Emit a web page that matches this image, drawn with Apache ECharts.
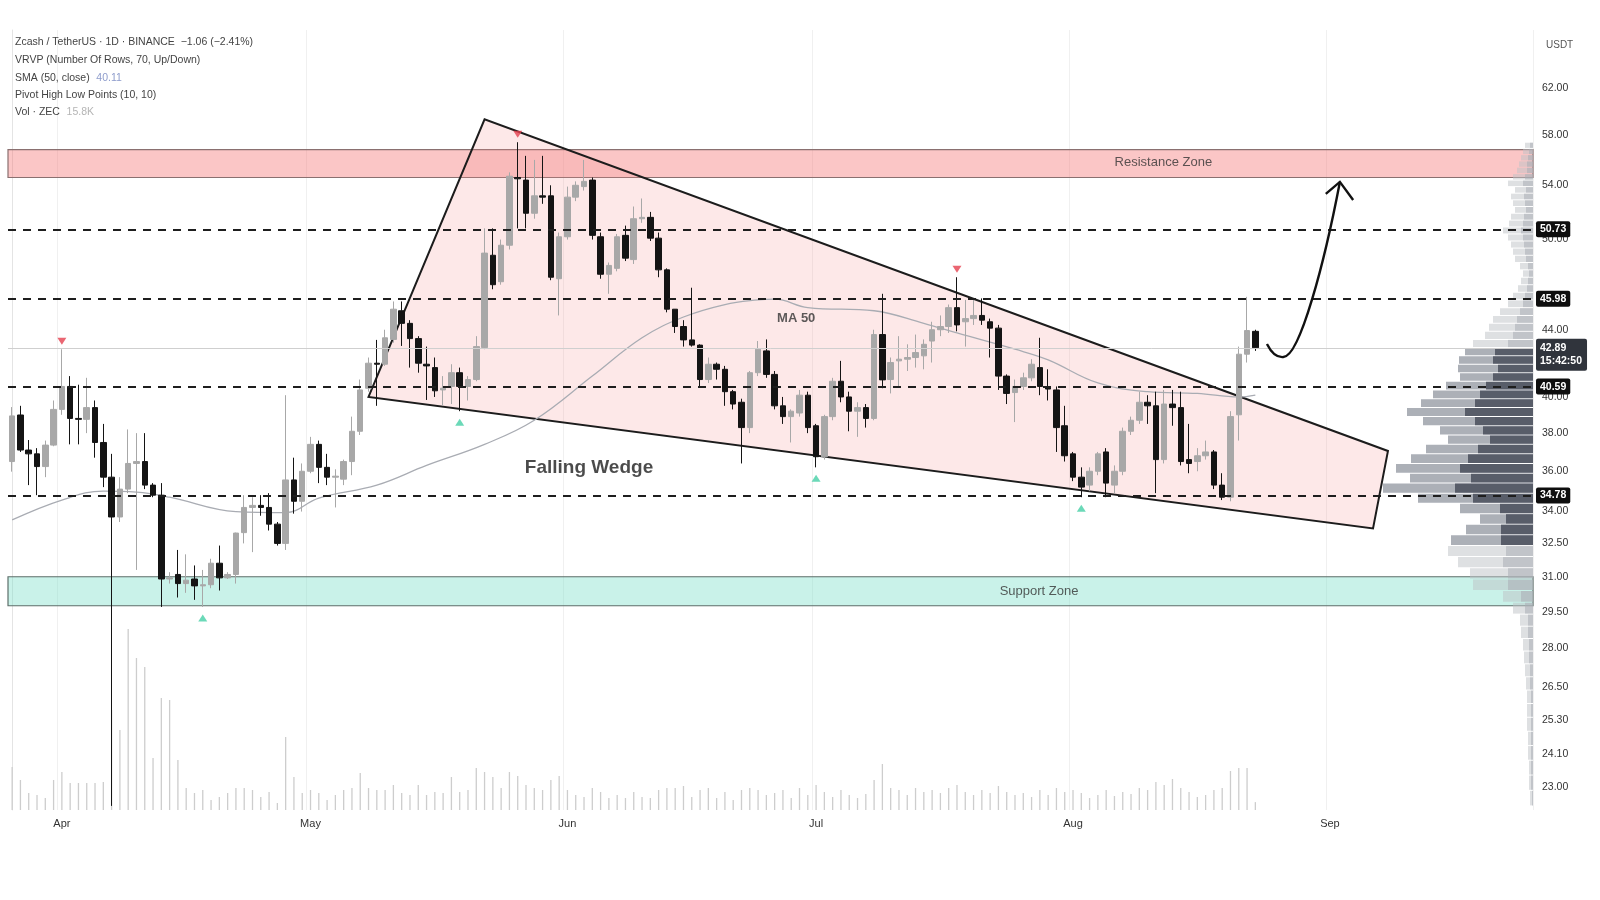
<!DOCTYPE html>
<html><head><meta charset="utf-8">
<script src="https://cdn.jsdelivr.net/npm/echarts@6/dist/echarts.min.js"></script>
<style>html,body{margin:0;padding:0;background:#fff}#c{width:1600px;height:900px}</style>
</head><body><div id="c"></div>
<script>
// ---------------- DATA ----------------
const startDate = [2025, 2, 26];   // 2025-03-26 (first candle)
const dayCount = 184;              // categories up to 2025-09-25
const monthNames = ['Jan','Feb','Mar','Apr','May','Jun','Jul','Aug','Sep','Oct','Nov','Dec'];

// daily candles: [open, close, low, high]
const ohlc = [
[36.5,38.94,35.98,39.43],[38.99,37.1,37.0,39.5],[37.1,36.9,35.3,37.63],[36.9,36.24,34.8,37.2],[36.24,37.36,35.7,37.6],
[37.36,39.3,37.3,39.8],[39.3,40.6,39.0,42.8],[40.6,38.8,37.4,41.2],[38.8,38.75,37.4,40.7],[38.75,39.4,38.0,41.1],
[39.4,37.5,36.7,39.8],[37.5,35.7,35.2,38.5],[35.7,33.74,22.4,36.9],[33.74,35.1,33.5,35.7],[35.1,36.4,34.9,38.2],
[36.4,36.5,31.3,38.0],[36.5,35.3,35.1,38.0],[35.3,34.8,34.7,35.4],[34.8,30.9,29.7,35.4],[30.9,30.95,30.7,31.2],
[31.1,30.7,30.1,32.2],[30.7,30.85,30.3,32.0],[30.9,30.6,30.0,31.5],[30.6,30.65,29.7,31.3],[30.65,31.6,30.5,31.8],
[31.6,30.95,30.4,32.4],[30.95,31.1,30.9,31.2],[31.1,32.98,30.7,33.0],[33.0,34.2,32.5,34.8],[34.2,34.3,32.1,34.7],
[34.3,34.2,33.8,34.8],[34.2,33.4,33.1,34.9],[33.4,32.5,32.4,33.5],[32.5,35.56,32.2,40.1],[35.56,34.5,33.9,36.7],
[34.5,36.0,34.0,36.4],[36.0,37.4,35.9,37.8],[37.4,36.2,35.4,37.6],[36.2,35.7,35.3,36.9],[35.7,35.75,34.2,36.1],
[35.6,36.5,35.3,36.6],[36.5,38.1,35.8,38.9],[38.1,40.4,37.9,41.0],[40.5,41.96,40.3,42.3],[41.96,41.9,39.5,43.37],
[41.9,43.5,41.8,44.0],[43.4,45.3,43.2,45.8],[45.2,44.4,43.0,45.8],[44.4,43.45,41.7,44.6],[43.45,41.96,41.4,43.6],
[41.9,41.8,39.83,42.96],[41.7,40.35,40.0,42.3],[40.4,40.5,39.5,41.2],[40.6,41.4,39.6,41.9],[41.4,40.6,39.2,41.7],
[40.6,41.0,39.8,41.2],[41.0,42.96,40.9,43.6],[42.9,49.05,42.8,50.8],[48.9,46.9,46.6,50.8],[47.1,49.6,46.9,50.0],
[49.6,54.7,49.3,55.0],[54.6,54.5,50.8,57.4],[54.4,51.9,50.8,56.3],[51.9,53.2,51.5,55.98],[53.2,53.1,52.6,56.3],
[53.2,47.4,47.2,54.0],[47.3,50.2,44.9,50.5],[50.2,53.1,50.0,53.9],[53.1,54.0,52.8,54.3],[53.9,54.3,53.6,55.98],
[54.4,50.3,50.0,54.6],[50.2,47.6,47.3,50.5],[47.6,48.2,46.3,48.4],[48.0,50.2,47.8,50.4],[50.3,48.7,48.5,51.0],
[48.6,51.5,48.3,52.4],[51.5,51.6,51.2,53.0],[51.6,50.1,49.9,52.0],[50.1,47.9,47.4,50.5],[47.9,45.3,45.1,48.0],
[45.3,44.2,43.8,45.3],[44.2,43.37,42.96,44.6],[43.37,43.05,42.96,46.7],[43.05,41.0,40.6,43.1],[41.0,41.9,40.8,42.3],
[41.9,41.6,41.0,42.0],[41.6,40.3,39.5,41.8],[40.3,39.6,39.3,40.4],[39.7,38.3,36.4,39.9],[38.3,41.4,38.0,41.5],
[41.4,42.8,41.2,43.3],[42.7,41.3,41.1,43.4],[41.3,39.5,39.3,41.5],[39.5,38.9,38.5,40.0],[38.9,39.2,37.5,39.3],
[39.1,40.1,38.9,40.4],[40.1,38.3,38.0,40.3],[38.4,36.75,36.2,38.5],[36.75,38.9,36.6,39.0],[38.9,40.9,38.7,41.1],
[40.9,40.0,39.7,42.1],[40.0,39.2,38.1,40.3],[39.2,39.4,37.8,39.7],[39.4,38.8,38.3,39.6],[38.8,43.7,38.7,44.0],
[43.7,40.98,40.5,46.3],[41.0,42.0,40.2,42.3],[42.1,42.2,40.6,43.6],[42.2,42.3,41.5,43.1],[42.3,42.6,41.7,43.7],
[42.4,43.1,41.6,43.4],[43.3,44.0,42.0,44.5],[44.0,44.2,43.6,44.9],[44.2,45.4,43.8,45.6],[45.4,44.3,43.9,47.4],
[44.5,44.7,42.96,45.9],[44.7,44.9,44.3,46.0],[44.9,44.6,44.3,46.0],[44.5,44.1,42.3,44.7],[44.1,41.2,40.4,44.3],
[41.2,40.2,39.6,41.3],[40.25,40.6,38.6,41.0],[40.6,41.1,40.4,41.4],[41.1,41.9,40.9,42.2],[41.7,40.6,40.1,43.5],
[40.55,40.45,39.8,41.6],[40.4,38.3,37.0,40.6],[38.4,36.8,36.5,39.5],[36.9,35.7,35.5,37.0],[35.7,35.2,34.7,36.2],
[35.3,36.0,35.0,36.2],[36.0,36.9,35.8,37.0],[37.0,35.4,34.7,37.2],[35.3,36.0,34.9,36.3],[36.0,38.1,35.8,38.3],
[38.1,38.7,37.9,38.9],[38.7,39.7,38.5,40.3],[39.7,39.5,38.5,40.1],[39.5,36.6,34.9,40.3],[36.6,39.6,36.4,40.4],
[39.6,39.4,38.4,40.4],[39.4,36.5,36.3,40.3],[36.6,36.4,35.9,38.5],[36.5,36.8,36.0,37.2],[36.8,37.0,36.6,37.6],
[37.0,35.3,35.1,37.1],[35.3,34.7,34.56,35.9],[34.7,38.9,34.5,39.2],[39.0,42.5,37.6,42.96],[42.5,43.95,42.0,46.1],
[43.9,42.89,42.7,44.0]
];

// daily volume (thousand ZEC)
const volumeK = [
86,60,34,30,24,60,76,54,54,54,54,56,200,160,362,304,286,104,224,220,
100,44,34,40,20,26,34,44,44,40,26,36,14,146,66,34,40,34,20,30,
40,44,74,44,40,40,50,34,30,50,30,36,34,66,36,40,84,76,66,44,
76,68,50,44,40,60,68,40,30,26,44,36,24,30,24,36,26,24,40,44,
44,48,26,40,44,24,36,20,40,44,40,30,34,40,24,44,30,50,36,26,
40,30,24,32,60,92,44,40,30,44,36,40,34,44,50,36,30,40,34,48,
36,30,34,26,40,30,44,36,40,34,24,30,40,28,36,32,44,40,56,50,
62,44,36,26,30,40,44,78,84,84,15.8
];

// SMA(50, close): [day index, value]
const smaPoints = [[0,33.6],[6,34.56],[11,35.0],[15,34.95],[19,34.7],[27,34.0],[33,33.95],[37,34.66],
[44,35.3],[50,36.3],[57,37.4],[63,38.7],[70,41.2],[76,43.5],[81,44.8],[86,45.6],[90,45.9],[92,45.95],
[96,45.4],[104,45.2],[110,44.4],[114,43.8],[121,42.8],[125,42.16],[131,40.8],[137,40.3],[143,40.2],[148,40.0],[150,40.11]];

const priceTicks = [23,24.1,25.3,26.5,28,29.5,31,32.5,34,36,38,40,42,44,46,50,54,58,62];
const keyLevels = [50.73, 45.98, 40.59, 34.78];
const lastPrice = 42.89;
const countdown = '15:42:50';
const resistanceZone = [54.6, 56.8];
const supportZone = [29.75, 31.0];

// falling wedge polygon vertices [day index, price]
const wedgePoints = [[43.0,40.0],[57.0,59.3],[166.0,37.05],[164.2,33.2]];
// projected move arrow: start, quad control, bottom, cubic control 1, cubic control 2, tip
const arrowCurve = [[151.4,43.12],[152.25,42.27],[153.38,42.33],[155.39,42.33],[158.4,48.58],[160.2,54.26]];
const arrowHead = [[158.5,53.35],[160.2,54.26],[161.8,52.89]];

const pivotHighs = [[6,42.8],[61,57.4],[114,47.4]];
const pivotLows = [[23,29.7],[54,39.2],[97,36.2],[129,34.7]];

// annotations [day index, price, text]
const notes = [[69.6,36.2,'Falling Wedge'],[94.6,44.7,'MA 50'],[138.9,55.75,'Resistance Zone'],[123.9,30.35,'Support Zone']];

// VRVP: 70 rows of 0.5 USDT from 22.4
const vrvpBase = 22.4, vrvpStep = 0.5;
const vrvpTotal = [3,4,4,5,5,6,6,6,7,8,9,10,12,13,20,30,60,63,75,85,
82,67,53,73,115,150,123,137,122,107,85,93,110,126,112,100,87,73,75,74,
68,60,48,44,40,33,25,20,15,12,10,13,18,20,22,25,30,24,22,18,
20,22,18,25,20,16,14,12,10,8];
const vrvpDark = [1,2,2,2,2,2,2,2,3,3,4,4,5,5,8,12,25,25,30,27,
32,32,27,33,60,78,62,73,65,55,43,50,58,68,58,53,47,40,35,40,
38,25,20,18,16,13,10,8,6,5,4,5,7,8,9,10,12,10,9,7,
8,9,7,10,8,6,6,5,4,3];
const valueArea = [20, 40];

const legendLines = [
  ['Zcash / TetherUS · 1D · BINANCE  −1.06 (−2.41%)', ''],
  ['VRVP (Number Of Rows, 70, Up/Down)', ''],
  ['SMA (50, close)', '40.11'],
  ['Pivot High Low Points (10, 10)', ''],
  ['Vol · ZEC', '15.8K']
];

// ---------------- BUILD ----------------
const cats = [];
const t0 = Date.UTC(startDate[0], startDate[1], startDate[2]);
for (let i = 0; i < dayCount; i++) cats.push(new Date(t0 + i * 86400000).toISOString().slice(0, 10));
const isMonthStart = (idx, v) => v.slice(8) === '01';

const GL = 8, GR = 67, GT = 30, GB = 90;
const gridW = 1600 - GL - GR;

const vrvpData = vrvpTotal.map((t, k) => [vrvpBase + k * vrvpStep, vrvpBase + (k + 1) * vrvpStep, t, vrvpDark[k], k]);

const chart = echarts.init(document.getElementById('c'), null, {renderer: 'canvas'});
const fontFam = "'Liberation Sans', Arial, sans-serif";

const option = {
  animation: false,
  backgroundColor: '#ffffff',
  textStyle: {fontFamily: fontFam},
  grid: {left: GL, right: GR, top: GT, bottom: GB},
  xAxis: [
    {type: 'category', data: cats, boundaryGap: true, gridIndex: 0,
     axisLine: {show: false}, axisTick: {show: false},
     axisLabel: {interval: isMonthStart, formatter: v => monthNames[+v.slice(5, 7) - 1], color: '#333', fontSize: 11, margin: 8},
     splitLine: {show: true, interval: isMonthStart, lineStyle: {color: '#f0f0f0', width: 1}}},
    {type: 'value', min: -0.5, max: dayCount - 0.5, show: false, gridIndex: 0},
    {type: 'value', min: 0, max: gridW, inverse: true, show: false, gridIndex: 0}
  ],
  yAxis: [
    {type: 'log', logBase: 10, min: 22.27, max: 67.3, position: 'right', gridIndex: 0,
     axisLine: {show: true, lineStyle: {color: '#e4e4e4'}}, axisTick: {show: false}, splitLine: {show: false},
     axisLabel: {customValues: priceTicks, formatter: v => Number(v).toFixed(2), color: '#333', fontSize: 10.5, margin: 9}},
    {type: 'value', min: 0, max: 1560, show: false, gridIndex: 0}
  ],
  graphic: [
    ...legendLines.map((l, i) => ({
      type: 'text', left: 15, top: 37 + i * 17.4, z: 100,
      style: {text: l[1] ? '{a|' + l[0] + '}  {b' + i + '|' + l[1] + '}' : '{a|' + l[0] + '}',
        rich: {a: {fill: '#444', fontSize: 10.5, fontFamily: fontFam},
               b2: {fill: '#8e9ccc', fontSize: 10.5, fontFamily: fontFam},
               b4: {fill: '#b5b5b5', fontSize: 10.5, fontFamily: fontFam}}}
    })),
    {type: 'text', left: 1546, top: 40, z: 100, style: {text: 'USDT', fill: '#555', fontSize: 10, fontFamily: fontFam}}
  ],
  series: [
    // falling wedge
    {type: 'custom', name: 'wedge', xAxisIndex: 1, yAxisIndex: 0, z: 1, silent: true,
     data: [wedgePoints[0]],
     renderItem: (params, api) => ({
       type: 'polygon', shape: {points: wedgePoints.map(p => api.coord(p))},
       style: {fill: 'rgba(245,140,140,0.2)', stroke: '#1c1c1c', lineWidth: 2}
     })},
    // VRVP
    {type: 'custom', name: 'VRVP', xAxisIndex: 2, yAxisIndex: 0, z: 2, silent: true, clip: false,
     data: vrvpData,
     renderItem: (params, api) => {
       const lo = api.value(0), hi = api.value(1), tot = api.value(2), dk = api.value(3), k = api.value(4);
       const inVA = k >= valueArea[0] && k <= valueArea[1];
       const a = api.coord([0, hi]), b = api.coord([tot, lo]), c = api.coord([dk, lo]);
       const h = Math.max(1, b[1] - a[1] - 1);
       return {type: 'group', children: [
         {type: 'rect', shape: {x: b[0], y: a[1] + 0.5, width: a[0] - b[0], height: h},
          style: {fill: inVA ? 'rgba(140,145,155,0.72)' : 'rgba(190,193,198,0.5)'}},
         {type: 'rect', shape: {x: c[0], y: a[1] + 0.5, width: a[0] - c[0], height: h},
          style: {fill: inVA ? 'rgba(70,75,88,0.82)' : 'rgba(170,173,180,0.55)'}}
       ]};
     }},
    // volume
    {type: 'bar', name: 'Volume', xAxisIndex: 0, yAxisIndex: 1, data: volumeK, barWidth: 1.3, z: 2,
     itemStyle: {color: '#cdcdcd'}, silent: true},
    // SMA 50
    {type: 'line', name: 'SMA 50', xAxisIndex: 1, yAxisIndex: 0, data: smaPoints, smooth: 0.4, showSymbol: false,
     lineStyle: {color: '#a9acb3', width: 1.3}, z: 3, silent: true},
    // candles
    {type: 'candlestick', name: 'ZECUSDT', xAxisIndex: 0, yAxisIndex: 0, data: ohlc, barWidth: 6, z: 5,
     itemStyle: {color: '#a8a8a8', color0: '#141414', borderColor: '#a8a8a8', borderColor0: '#141414', borderWidth: 1},
     markArea: {silent: true, z: 1,
       data: [
         [{yAxis: resistanceZone[0], itemStyle: {color: 'rgba(246,120,120,0.42)', borderColor: '#8a7070', borderWidth: 1.2}}, {yAxis: resistanceZone[1]}],
         [{yAxis: supportZone[0], itemStyle: {color: 'rgba(120,222,200,0.40)', borderColor: '#5e6e6a', borderWidth: 1.2}}, {yAxis: supportZone[1]}]
       ]},
     markLine: {silent: true, symbol: 'none', z: 6, precision: 2,
       data: [
         ...keyLevels.map(v => ({yAxis: v,
           lineStyle: {type: [8, 7], color: '#1e1e1e', width: 2},
           label: {position: 'end', distance: 3, formatter: v.toFixed(2), backgroundColor: '#0e0e0e', color: '#fff',
                   fontSize: 10.5, fontWeight: 'bold', padding: [3, 4, 2, 4], borderRadius: 2}})),
         {yAxis: lastPrice, lineStyle: {type: 'solid', color: '#cfcfcf', width: 1},
          label: {position: 'end', distance: 3, offset: [0, 7], formatter: lastPrice.toFixed(2) + '\n' + countdown, backgroundColor: '#30343c',
                  color: '#fff', fontSize: 10.5, fontWeight: 'bold', padding: [3, 5, 3, 4], lineHeight: 13, borderRadius: 2}}
       ]}},
    // pivot highs / lows
    {type: 'scatter', name: 'Pivot High', xAxisIndex: 1, yAxisIndex: 0, data: pivotHighs, symbol: 'triangle',
     symbolRotate: 180, symbolSize: [9, 7], symbolOffset: [0, -8], itemStyle: {color: '#e5404f'}, z: 7, silent: true},
    {type: 'scatter', name: 'Pivot Low', xAxisIndex: 1, yAxisIndex: 0, data: pivotLows, symbol: 'triangle',
     symbolSize: [9, 7], symbolOffset: [0, 11], itemStyle: {color: '#46cfa6'}, z: 7, silent: true},
    // arrow (curve + head)
    {type: 'custom', name: 'arrow', xAxisIndex: 1, yAxisIndex: 0, z: 8, silent: true, clip: false,
     data: [arrowCurve[0]],
     renderItem: (params, api) => {
       const p = arrowCurve.map(q => api.coord(q));
       const h = arrowHead.map(q => api.coord(q));
       const d = 'M' + p[0][0] + ' ' + p[0][1] + ' Q' + p[1][0] + ' ' + p[1][1] + ' ' + p[2][0] + ' ' + p[2][1] +
                 ' C' + p[3][0] + ' ' + p[3][1] + ' ' + p[4][0] + ' ' + p[4][1] + ' ' + p[5][0] + ' ' + p[5][1];
       return {type: 'group', children: [
         {type: 'path', shape: {pathData: d}, style: {fill: null, stroke: '#111', lineWidth: 2.4}},
         {type: 'polyline', shape: {points: h}, style: {fill: null, stroke: '#111', lineWidth: 2.4}}
       ]};
     }},
    // annotation texts
    {type: 'scatter', name: 'notes', xAxisIndex: 1, yAxisIndex: 0, symbolSize: 0, z: 9, silent: true,
     data: notes.map((n, i) => ({value: [n[0], n[1]], label: {
       show: true, position: 'inside', formatter: n[2], fontFamily: fontFam,
       fontSize: i === 0 ? 19 : 13, fontWeight: i <= 1 ? 'bold' : 'normal', color: i === 0 ? '#1e1e1e' : '#333'}}))}
  ]
};
chart.setOption(option);
</script>
</body></html>
